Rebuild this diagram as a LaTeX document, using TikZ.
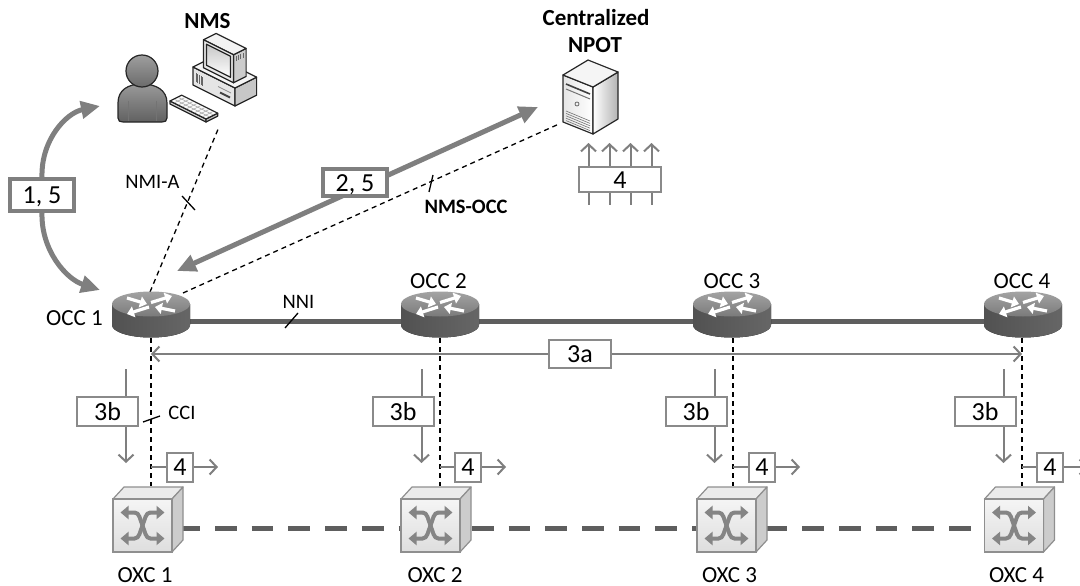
\documentclass[tikz,border=0pt]{standalone}
\usepackage{fontspec}
\setmainfont{Carlito}
\usetikzlibrary{arrows.meta}
\definecolor{arrowgray}{HTML}{7F7F7F}
\definecolor{railgray}{HTML}{5E5E5E}
\definecolor{framegray}{HTML}{8A8A8A}
\definecolor{symgray}{HTML}{858585}
\definecolor{cubeedge}{HTML}{8F8F8F}
\definecolor{iconink}{HTML}{262626}
\begin{document}
\begin{tikzpicture}[x=1pt,y=-1pt,
  lbl/.style={font=\fontsize{23}{26}\selectfont, inner sep=0pt},
  headlbl/.style={font=\bfseries\fontsize{23}{26}\selectfont, inner sep=0pt},
  iflbl/.style={font=\fontsize{20.5}{23}\selectfont, inner sep=0pt},
  iflblb/.style={font=\bfseries\fontsize{20.5}{23}\selectfont, inner sep=0pt},
  stepbox/.style={draw=framegray, line width=2pt, fill=white, inner sep=0pt,
    font=\fontsize{26}{28}\selectfont, text height=17pt, text depth=0pt},
  bigstep/.style={stepbox, draw=arrowgray, line width=4pt},
  ctrl/.style={draw=black, line width=1.3pt, dash pattern=on 5pt off 4pt},
  flow/.style={draw=arrowgray, line width=2pt},
  flowtip/.style={flow, -{Straight Barb[length=7pt,width=15pt]}},
  bigflow/.style={draw=arrowgray, line width=5pt},
  bighead/.style={-{Triangle[length=19pt,width=17pt]}},
  tick/.style={draw=black, line width=1.3pt},
  iconline/.style={draw=iconink, line width=1.2pt, line join=round},
  router/.pic={
    \fill[left color=black!68, right color=black!60]
      (-39,0) -- (-39,21) arc[start angle=180, end angle=0, x radius=39, y radius=12.5]
      -- (39,0) -- cycle;
    \shade[top color=black!36, bottom color=black!52]
      (0,0) ellipse[x radius=39, y radius=12.5];
    \begin{scope}[white, line width=3.2pt, -{Triangle[length=7pt,width=11pt]}]
      \draw (-24,-6) -- (-4,0);
      \draw (24,7) -- (4,3);
      \draw (0,-1.5) -- (21,-8);
      \draw (-2,3) -- (-24,10);
    \end{scope}
  },
  oxc/.pic={
    \draw[cubeedge, line width=1.2pt, fill=black!8, line join=round]
      (-29.5,-26.5) -- (-18.5,-38.5) -- (40.5,-38.5) -- (29.5,-26.5) -- cycle;
    \draw[cubeedge, line width=1.2pt, fill=black!20, line join=round]
      (29.5,-26.5) -- (40.5,-38.5) -- (40.5,14.5) -- (29.5,26.5) -- cycle;
    \draw[cubeedge, line width=1.2pt, top color=black!4, bottom color=black!13]
      (-29.5,-26.5) rectangle (29.5,26.5);
    \begin{scope}[symgray, line width=4pt,
        {Triangle[length=8pt,width=13pt]}-{Triangle[length=8pt,width=13pt]}]
      \draw (-22,-13) -- (-8,-13) .. controls (-3,-13) and (-2.5,-6) .. (0,0)
            .. controls (2.5,6) and (3,13) .. (8,13) -- (22,13);
      \draw (-22,13) -- (-8,13) .. controls (-3,13) and (-2.5,6) .. (0,0)
            .. controls (2.5,-6) and (3,-13) .. (8,-13) -- (22,-13);
    \end{scope}
  }
]
\useasboundingbox (0,0) rectangle (1080,586);

% ---------- anchor points ----------
\coordinate (occ1) at (151,304);
\coordinate (occ2) at (440,304);
\coordinate (occ3) at (732,304);
\coordinate (occ4) at (1023,304);
\coordinate (occ1s) at (151,338);
\coordinate (occ2s) at (440,338);
\coordinate (occ3s) at (733,338);
\coordinate (occ4s) at (1022,338);
\coordinate (oxc1n) at (151,486);
\coordinate (oxc2n) at (440,486);
\coordinate (oxc3n) at (733,486);
\coordinate (oxc4n) at (1022,486);
\coordinate (occ1n) at (150,292);
\coordinate (occ1ne) at (183,293);
\coordinate (nmskb) at (219,127);
\coordinate (npotw) at (559,124);
\coordinate (a25s) at (177,271);
\coordinate (a25e) at (538,107);
\coordinate (nmsin) at (100,106);
\coordinate (occin) at (100,290);
\coordinate (nniw) at (151,321);
\coordinate (nnie) at (1023,321);
\coordinate (dataw) at (178.3,528);
\coordinate (datae) at (1000,528);

% ---------- transport links ----------
\draw[railgray, line width=5pt] (nniw) -- (nnie);
\draw[railgray, line width=5pt, dash pattern=on 21.7pt off 15pt] (dataw) -- (datae);

% ---------- control interfaces ----------
\draw[ctrl] (occ1n) -- (nmskb);
\draw[ctrl] (occ1ne) -- (npotw);
\draw[ctrl] (occ1s) -- (oxc1n);
\draw[ctrl] (occ2s) -- (oxc2n);
\draw[ctrl] (occ3s) -- (oxc3n);
\draw[ctrl] (occ4s) -- (oxc4n);
\draw[tick] (182,196) -- (195,210);
\draw[tick] (433,175) -- (429,192);
\draw[tick] (143,422) -- (160,416);
\draw[tick] (285,328) -- (298,313);

% ---------- network elements ----------
\pic at (occ1) {router};
\pic at (occ2) {router};
\pic at (occ3) {router};
\pic at (occ4) {router};
\pic at (142.5,525.5) {oxc};
\pic at (430.5,525.5) {oxc};
\pic at (726.5,525.5) {oxc};
\pic at (1014,525.5) {oxc};

% operator
\draw[iconline, top color=black!40, bottom color=black!62]
  (118,118) -- (118,103) .. controls (118,90) and (128,84) .. (142,84)
  .. controls (156,84) and (167,90) .. (167,103) -- (167,118)
  .. controls (167,121) and (165,122) .. (162,122) -- (123,122)
  .. controls (120,122) and (118,121) .. (118,118) -- cycle;
\draw[black!55, line width=0.7pt] (128,101) -- (128,121) (156,101) -- (156,121);
\draw[iconline, top color=black!38, bottom color=black!58] (142,71) circle[radius=16];

% workstation
\begin{scope}[shift={(193,85)}, x={(1pt,-0.5pt)}, y={(0.9pt,0.45pt)}, z={(0pt,1pt)}]
  \draw[iconline, fill=black!10] (0,0,0) -- (42,0,0) -- (42,0,18) -- (0,0,18) -- cycle;
  \draw[iconline, fill=black!22] (42,0,0) -- (42,24,0) -- (42,24,18) -- (42,0,18) -- cycle;
  \draw[iconline, fill=black!4] (0,0,18) -- (42,0,18) -- (42,24,18) -- (0,24,18) -- cycle;
  \foreach \i in {0,...,4} \draw[black!60, line width=0.6pt] (3+1.6*\i,0,4) -- (3+1.6*\i,0,13);
  \draw[black!75, line width=1.8pt] (27,0,6) -- (37,0,6);
  \draw[black!45, line width=0.8pt] (25,0,11) -- (38,0,11);
  \draw[iconline, fill=black!20] (36,5,18) -- (36,19,18) -- (36,19,46) -- (36,5,46) -- cycle;
  \draw[iconline, fill=black!5] (6,5,46) -- (36,5,46) -- (36,19,46) -- (6,19,46) -- cycle;
  \draw[iconline, fill=black!9] (6,5,18) -- (36,5,18) -- (36,5,46) -- (6,5,46) -- cycle;
  \draw[iconline, top color=black!22, bottom color=white] (9,5,22) -- (33,5,22) -- (33,5,43) -- (9,5,43) -- cycle;
  \foreach \i in {0,...,3} \draw[black!60, line width=0.6pt] (36,8+2.5*\i,43) -- (36,8+2.5*\i,38);
\end{scope}
\begin{scope}[shift={(170,104)}, x={(1pt,-0.5pt)}, y={(0.9pt,0.45pt)}, z={(0pt,1pt)}]
  \draw[iconline, fill=black!18] (0,0,0) -- (36,0,0) -- (36,0,3) -- (0,0,3) -- cycle;
  \draw[iconline, fill=black!25] (36,0,0) -- (36,13,0) -- (36,13,3) -- (36,0,3) -- cycle;
  \draw[iconline, fill=black!2] (0,0,3) -- (36,0,3) -- (36,13,3) -- (0,13,3) -- cycle;
  \foreach \i in {4,8,...,32} \draw[black!35, line width=0.5pt] (\i,1,3) -- (\i,12,3);
  \foreach \j in {4.3,8.6} \draw[black!35, line width=0.5pt] (1,\j,3) -- (35,\j,3);
\end{scope}

% planning server
\draw[iconline, left color=black!10, right color=white] (563,75) -- (593,87) -- (593,134) -- (563,122) -- cycle;
\draw[iconline, left color=white, right color=black!30] (593,87) -- (618,72) -- (618,119) -- (593,134) -- cycle;
\draw[iconline, fill=black!4] (563,75) -- (588,60) -- (618,72) -- (593,87) -- cycle;
\draw[black!75, line width=1.6pt] (566,84) -- (590,94);
\draw[black!55, line width=1pt] (566,89) -- (590,99);
\draw[black!60, line width=0.8pt] (577,104) circle[radius=2];
\foreach \k in {0,...,4} \draw[black!55, line width=0.6pt] (566,111+2.4*\k) -- (590,121+2.4*\k);

% ---------- labels ----------
\node[headlbl] (nmslbl) at (207.5,21) {NMS};
\node[headlbl] (npotlbl1) at (596,18) {Centralized};
\node[headlbl] (npotlbl2) at (595,45.5) {NPOT};
\node[iflbl] (nmialbl) at (152.5,182) {NMI-A};
\node[iflblb] (nmsocclbl) at (466,207) {NMS-OCC};
\node[iflbl] (ccilbl) at (182,413) {CCI};
\node[iflbl] (nnilbl) at (298.5,301.5) {NNI};
\node[lbl] (occ1lbl) at (74.5,318) {OCC 1};
\node[lbl] (occ2lbl) at (438.5,281) {OCC 2};
\node[lbl] (occ3lbl) at (732,281) {OCC 3};
\node[lbl] (occ4lbl) at (1022,281) {OCC 4};
\node[lbl] (oxc1lbl) at (145,575) {OXC 1};
\node[lbl] (oxc2lbl) at (435,575) {OXC 2};
\node[lbl] (oxc3lbl) at (729.5,575) {OXC 3};
\node[lbl] (oxc4lbl) at (1016.5,575) {OXC 4};

% ---------- procedure steps ----------
\node[bigstep, minimum width=64pt, minimum height=32pt] (s15) at (42,195) {1, 5};
\draw[bigflow, bighead] (s15.north) .. controls (41,140) and (66,113) .. (nmsin);
\draw[bigflow, bighead] (s15.south) .. controls (41,250) and (66,279) .. (occin);

\draw[bigflow, {Triangle[length=19pt,width=17pt]}-{Triangle[length=19pt,width=17pt]}] (a25s) -- (a25e);
\node[bigstep, minimum width=64pt, minimum height=27pt] (s25) at (355,182.5) {2, 5};

\node[stepbox, minimum width=82pt, minimum height=25pt] (s4npot) at (620,179.5) {4};
\foreach \dx in {-31.5,-10.5,10.5,31.5} {
  \draw[flow] ([xshift=\dx pt]s4npot.south) -- ++(0,12);
  \draw[flowtip] ([xshift=\dx pt]s4npot.north) -- ++(0,-23);
}

\node[stepbox, minimum width=62pt, minimum height=28pt] (s3a) at (580,354) {3a};
\draw[flowtip] (s3a.west) -- (occ1 |- s3a.west);
\draw[flowtip] (s3a.east) -- (occ4s |- s3a.east);

\foreach \n/\bx in {1/107.5, 2/403, 3/696, 4/985} {
  \node[stepbox, minimum width=61pt, minimum height=29pt] (s3b\n) at (\bx,411.5) {3b};
  \draw[flow] ([xshift=18.5pt]s3b\n.north) -- ++(0,-27);
  \draw[flowtip] ([xshift=18.5pt]s3b\n.south) -- ++(0,36);
}
\foreach \n/\bx/\lx in {1/180/occ1s, 2/468/occ2s, 3/762/occ3s, 4/1050/occ4s} {
  \node[stepbox, minimum width=26pt, minimum height=29pt] (s4\n) at (\bx,467) {4};
  \draw[flow] (\lx |- s4\n.west) -- (s4\n.west);
  \draw[flowtip] (s4\n.east) -- ++(24,0);
}
\end{tikzpicture}
\end{document}
